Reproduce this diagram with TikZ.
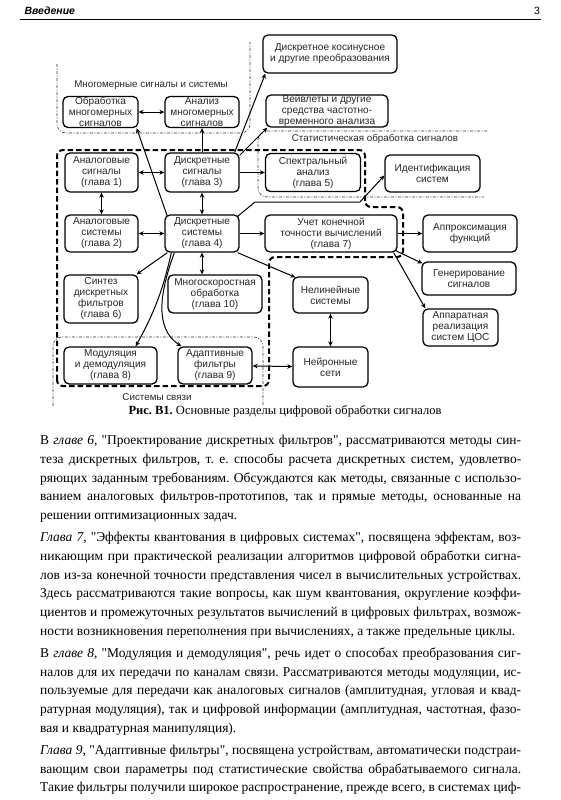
\documentclass[tikz,border=0pt]{standalone}
\usepackage{fontspec}
\setmainfont{Liberation Serif}
\setsansfont{Liberation Sans}
\usepackage{tikz}
\usetikzlibrary{arrows.meta}

\newcommand{\qt}{\textquotedbl}

\begin{document}
\frenchspacing
\begin{tikzpicture}[
			x=1pt,y=-1pt,
			box/.style={draw,line width=1.3pt,rounded corners=5pt,align=center,inner sep=0pt,text=black!85,font=\sffamily\fontsize{10.1}{11}\selectfont},
			area/.style={line width=2pt,dash pattern=on 5.5pt off 3pt,rounded corners=6pt},
			zone/.style={line width=0.6pt,black!80,dash pattern=on 3pt off 1.5pt on 1pt off 1.5pt,rounded corners=9pt},
			zonetext/.style={font=\sffamily\fontsize{9.8}{11}\selectfont,text=black!85},
			arr/.style={->,line width=1pt},
			dbl/.style={<->,line width=1pt},
			>={Stealth[length=5pt,width=4.5pt]}
			]
			
			\useasboundingbox (0,0) rectangle (561,800);
			
			\node[anchor=west,font=\sffamily\bfseries\itshape\fontsize{10.5}{12}\selectfont] (head) at (21,11) {Введение};
			\node[font=\sffamily\fontsize{10.5}{12}\selectfont] (page) at (537,11) {3};
			\draw[line width=1pt] (20,20) -- (541,20);
			
			\node[box,minimum width=134pt,minimum height=38pt] (dct) at (330,54)
			{Дискретное косинусное\\и другие преобразования};
			\node[box,minimum width=75pt,minimum height=31pt] (mdproc) at (100.5,112)
			{Обработка\\многомерных\\сигналов};
			\node[box,minimum width=74pt,minimum height=31pt] (mdan) at (202,112)
			{Анализ\\многомерных\\сигналов};
			\node[box,minimum width=122pt,minimum height=32pt] (wav) at (327,111)
			{Вейвлеты и другие\\средства частотно-\\временного анализа};
			
			\node[box,minimum width=73pt,minimum height=39pt] (ansig) at (101.5,172.5)
			{Аналоговые\\сигналы\\(глава 1)};
			\node[box,minimum width=74pt,minimum height=39pt] (dsig) at (202,172.5)
			{Дискретные\\сигналы\\(глава 3)};
			\node[box,minimum width=95pt,minimum height=38pt] (spec) at (313,172.5)
			{Спектральный\\анализ\\(глава 5)};
			\node[box,minimum width=95pt,minimum height=37pt] (ident) at (432.5,173.5)
			{Идентификация\\систем};
			
			\node[box,minimum width=73pt,minimum height=37pt] (ansys) at (101.5,233.5)
			{Аналоговые\\системы\\(глава 2)};
			\node[box,minimum width=74pt,minimum height=37pt] (dsys) at (202,233.5)
			{Дискретные\\системы\\(глава 4)};
			\node[box,minimum width=132pt,minimum height=37pt] (fin) at (331,233.5)
			{Учет конечной\\точности вычислений\\(глава 7)};
			\node[box,minimum width=94pt,minimum height=37pt] (approx) at (470,233.5)
			{Аппроксимация\\функций};
			
			\node[box,minimum width=74pt,minimum height=48pt] (synth) at (101,299)
			{Синтез\\дискретных\\фильтров\\(глава 6)};
			\node[box,minimum width=94pt,minimum height=38pt] (multi) at (215,294)
			{Многоскоростная\\обработка\\(глава 10)};
			\node[box,minimum width=75pt,minimum height=36pt] (nonlin) at (330.5,295)
			{Нелинейные\\системы};
			\node[box,minimum width=94pt,minimum height=33pt] (gen) at (469,278.5)
			{Генерирование\\сигналов};
			\node[box,minimum width=75pt,minimum height=37pt] (hw) at (460.5,327.5)
			{Аппаратная\\реализация\\систем ЦОС};
			
			\node[box,minimum width=93pt,minimum height=37pt] (mod) at (110.5,365.5)
			{Модуляция\\и демодуляция\\(глава 8)};
			\node[box,minimum width=74pt,minimum height=37pt] (adapt) at (215,365.5)
			{Адаптивные\\фильтры\\(глава 9)};
			\node[box,minimum width=75pt,minimum height=40pt] (neur) at (330.5,367)
			{Нейронные\\сети};
			
			\draw[zone] (57,64) -- (57,133) -- (250,133) -- (250,42);
			\node[zonetext] (mdlabel) at (151,85) {Многомерные сигналы и системы};
			\draw[zone] (487,131) -- (258,131) -- (258,197) -- (484,197);
			\node[zonetext] (stlabel) at (375,139) {Статистическая обработка сигналов};
			\draw[zone] (53,406) -- (53,337) -- (263,337) -- (263,406);
			\node[zonetext] (cslabel) at (157,397) {Системы связи};
			\draw[area] (57,386) -- (57,150) -- (365,150) -- (365,207) -- (403,207) -- (403,257) -- (269,257) -- (269,386) -- cycle;
			
			\coordinate (bend1) at (255,202);
			\coordinate (bend2) at (360,202);
			
			\draw[dbl] (mdproc) -- (mdan);
			\draw[arr] (dsig) -- (mdan);
			\draw[arr] ([xshift=3pt,yshift=-2pt]dsys.north west) -- ([xshift=-2pt]mdproc.south east);
			\draw[arr] ([xshift=-5pt]dsig.north east) -- ([xshift=3pt]dct.south west);
			\draw[arr] ([yshift=-3pt]dsig.north east) -- ([xshift=2pt]wav.south west);
			\draw[dbl] (ansig) -- (dsig);
			\draw[dbl] (ansig) -- (ansys);
			\draw[dbl] (dsig) -- (dsys);
			\draw[dbl] (ansys) -- (dsys);
			\draw[arr] (dsig) -- (spec);
			\draw[arr] ([xshift=-2pt,yshift=-2pt]dsys.north east) -- (bend1) -- (bend2) -- ([yshift=-2pt]ident.west);
			\draw[arr] (dsys) -- (fin);
			\draw[arr] (fin) -- (approx);
			\draw[arr] ([xshift=-2pt,yshift=2pt]fin.south east) -- ([xshift=1pt,yshift=-2pt]gen.north west);
			\draw[arr] ([xshift=-4pt]fin.south east) -- ([xshift=3pt]hw.north west);
			\draw[arr] ([xshift=-2pt]dsys.south east) -- ([xshift=3pt,yshift=-1pt]nonlin.north west);
			\draw[dbl] (nonlin) -- (neur);
			\draw[dbl] (adapt) -- (neur);
			\draw[dbl] (dsys.south) -- (dsys.south |- multi.north);
			\draw[arr] ([xshift=3pt]dsys.south west) -- ([xshift=-2pt]synth.north east);
			\draw[arr] ([xshift=7pt]dsys.south west) to[bend left=8] ([xshift=-22pt]mod.north east);
			\draw[arr] ([xshift=10pt]dsys.south west) .. controls (160,292) and (154,328) .. ([xshift=4pt]adapt.north west);
			
			\node[font=\fontsize{12.5}{14}\selectfont] (caption) at (285,411)
			{\textbf{Рис. В1.} Основные разделы цифровой обработки сигналов};
			
			\node[anchor=north west,inner sep=0pt,text width=481pt,align=justify,
			font={\fontsize{13.5}{18.75}\selectfont}] (body) at (40,435)
			{\parskip=3.3pt\hyphenpenalty=10000\exhyphenpenalty=10000\tolerance=10000
				В \textit{главе 6}, \qt Проектирование дискретных фильтров\qt, рассматриваются методы син-\linebreak
				теза дискретных фильтров, т.~е. способы расчета дискретных систем, удовлетво-\linebreak
				ряющих заданным требованиям. Обсуждаются как методы, связанные с использо-\linebreak
				ванием аналоговых фильтров-прототипов, так и прямые методы, основанные на\linebreak
				решении оптимизационных задач.\par
				\textit{Глава 7}, \qt Эффекты квантования в цифровых системах\qt, посвящена эффектам, воз-\linebreak
				никающим при практической реализации алгоритмов цифровой обработки сигна-\linebreak
				лов из-за конечной точности представления чисел в вычислительных устройствах.\linebreak
				Здесь рассматриваются такие вопросы, как шум квантования, округление коэффи-\linebreak
				циентов и промежуточных результатов вычислений в цифровых фильтрах, возмож-\linebreak
				ности возникновения переполнения при вычислениях, а также предельные циклы.\par
				В \textit{главе 8}, \qt Модуляция и демодуляция\qt, речь идет о способах преобразования сиг-\linebreak
				налов для их передачи по каналам связи. Рассматриваются методы модуляции, ис-\linebreak
				пользуемые для передачи как аналоговых сигналов (амплитудная, угловая и квад-\linebreak
				ратурная модуляция), так и цифровой информации (амплитудная, частотная, фазо-\linebreak
				вая и квадратурная манипуляция).\par
				\textit{Глава 9}, \qt Адаптивные фильтры\qt, посвящена устройствам, автоматически подстраи-\linebreak
				вающим свои параметры под статистические свойства обрабатываемого сигнала.\linebreak
				Такие фильтры получили широкое распространение, прежде всего, в системах циф-{\parfillskip=0pt\par}};
			
		\end{tikzpicture}
\end{document}
